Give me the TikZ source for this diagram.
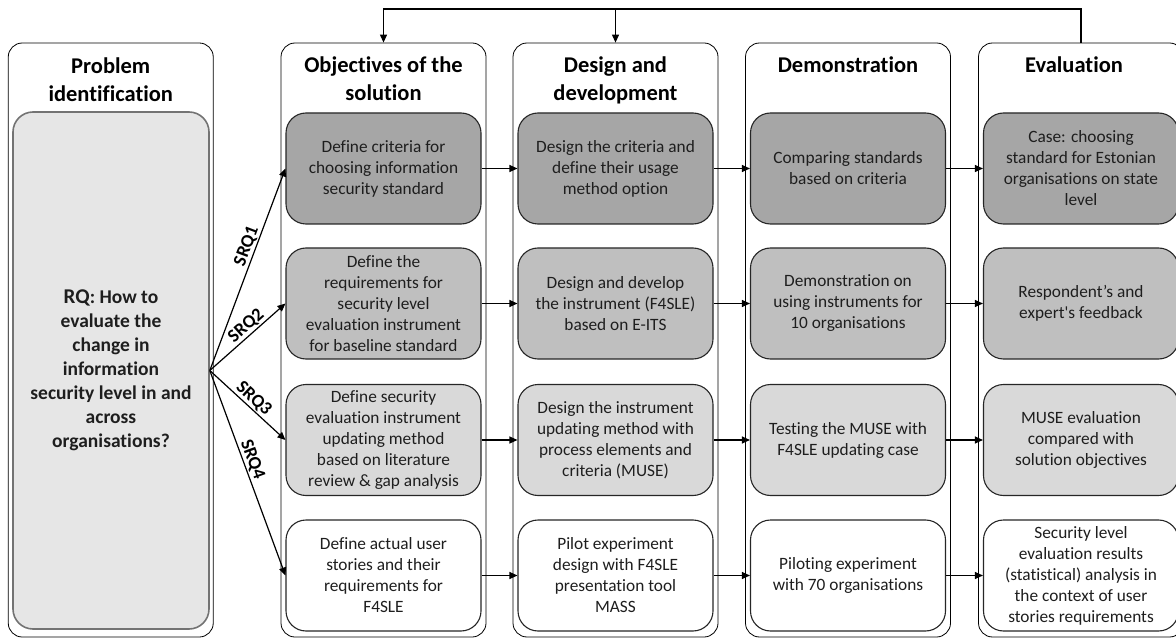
\documentclass[tikz,border=0pt]{standalone}
\usepackage{fontspec}
\setmainfont[Ligatures={NoCommon}]{Carlito}
\usetikzlibrary{arrows.meta}

\definecolor{shadeA}{HTML}{A6A6A6}
\definecolor{shadeB}{HTML}{BFBFBF}
\definecolor{shadeC}{HTML}{D9D9D9}
\definecolor{rqfill}{HTML}{E6E6E6}
\definecolor{ink}{HTML}{1E1E1E}

\begin{document}
\begin{tikzpicture}[x=1pt,y=-1pt,
  phase/.style={draw=black, line width=0.8pt, rounded corners=14pt,
    minimum width=205pt, minimum height=594pt, inner sep=0pt},
  head/.style={anchor=north, inner sep=0pt, align=center, text=black,
    font=\fontsize{22.5}{27.5}\selectfont\bfseries},
  task/.style={draw=black!85, line width=1.1pt, rounded corners=20pt,
    minimum width=195pt, minimum height=111pt, inner sep=0pt, align=center,
    text=ink, font=\fontsize{17.3}{21}\selectfont},
  arr/.style={draw=black, line width=1.2pt, -{Triangle[length=8pt,width=7pt]}},
  srq/.style={sloped, above, inner sep=1.2pt, text=black,
    font=\fontsize{18.5}{20}\selectfont\bfseries}]

\useasboundingbox (0,0) rectangle (1176,639);

% phase columns
\node[phase] (pPro) at (110.75,340) {};
\node[phase] (pObj) at (383.5,340) {};
\node[phase] (pDes) at (615.5,340) {};
\node[phase] (pDem) at (848,340) {};
\node[phase] (pEva) at (1081,340) {};

% column headings
\node[head] (hPro) at (110.75,58) {Problem\\identification};
\node[head] (hObj) at (383.5,57) {Objectives of the\\solution};
\node[head] (hDes) at (615.5,57) {Design and\\development};
\node[head] (hDem) at (848,57) {Demonstration};
\node[head] (hEva) at (1074,57) {Evaluation};

% research question
\node[draw=black!55, line width=1.6pt, fill=rqfill, rounded corners=20pt,
  minimum width=196pt, minimum height=517pt, inner sep=0pt, align=center,
  text=ink, font=\fontsize{19.5}{24}\selectfont\bfseries]
  (rq) at (111,370.5)
  {{\fontsize{21}{24}\selectfont RQ}: How to\\evaluate the\\change in\\information\\security level in and\\across\\organisations?};

% row 1
\node[task, fill=shadeA] (o1) at (383.5,168.5) {Define criteria for\\choosing information\\security standard};
\node[task, fill=shadeA] (d1) at (615.5,168.5) {Design the criteria and\\define their usage\\method option};
\node[task, fill=shadeA] (m1) at (848,168.5) {Comparing standards\\based on criteria};
\node[task, fill=shadeA] (e1) at (1081,168.5) {Case: choosing\\standard for Estonian\\organisations on state\\level};

% row 2
\node[task, fill=shadeB] (o2) at (383.5,303.5) {Define the\\requirements for\\security level\\evaluation instrument\\for baseline standard};
\node[task, fill=shadeB] (d2) at (615.5,303.5) {Design and develop\\the instrument (F4SLE)\\based on E-ITS};
\node[task, fill=shadeB] (m2) at (848,303.5) {Demonstration on\\using instruments for\\10 organisations};
\node[task, fill=shadeB] (e2) at (1081,303.5) {Respondent’s and\\expert\textquotesingle s feedback};

% row 3
\node[task, fill=shadeC] (o3) at (383.5,440) {Define security\\evaluation instrument\\updating method\\based on literature\\review \& gap analysis};
\node[task, fill=shadeC] (d3) at (615.5,440) {Design the instrument\\updating method with\\process elements and\\criteria (MUSE)};
\node[task, fill=shadeC] (m3) at (848,440) {Testing the MUSE with\\F4SLE updating case};
\node[task, fill=shadeC] (e3) at (1081,440) {MUSE evaluation\\compared with\\solution objectives};

% row 4
\node[task, fill=white] (o4) at (383.5,575.5) {Define actual user\\stories and their\\requirements for\\F4SLE};
\node[task, fill=white] (d4) at (615.5,575.5) {Pilot experiment\\design with F4SLE\\presentation tool\\MASS};
\node[task, fill=white] (m4) at (848,575.5) {Piloting experiment\\with 70 organisations};
\node[task, fill=white] (e4) at (1081,575.5) {Security level\\evaluation results\\(statistical) analysis in\\the context of user\\stories requirements};

% flow along each row
\foreach \r in {1,2,3,4}{
  \draw[arr] (o\r.east) -- (d\r.west);
  \draw[arr] (d\r.east) -- (m\r.west);
  \draw[arr] (m\r.east) -- (e\r.west);
}

% sub-questions fanning out of the research question
\draw[arr] (rq.east) -- node[srq, pos=0.6] {SRQ1} (o1.west);
\draw[arr] (rq.east) -- node[srq, pos=0.56] {SRQ2} (o2.west);
\draw[arr] (rq.east) -- node[srq, pos=0.5] {SRQ3} (o3.west);
\draw[arr] (rq.east) -- node[srq, pos=0.45] {SRQ4} (o4.west);

% iteration feedback from evaluation
\coordinate (fbtop) at (0,9);
\draw[arr] (pEva.north) -- (pEva.north |- fbtop) -| (pObj.north);
\draw[arr] (pDes.north |- fbtop) -- (pDes.north);

\end{tikzpicture}
\end{document}
